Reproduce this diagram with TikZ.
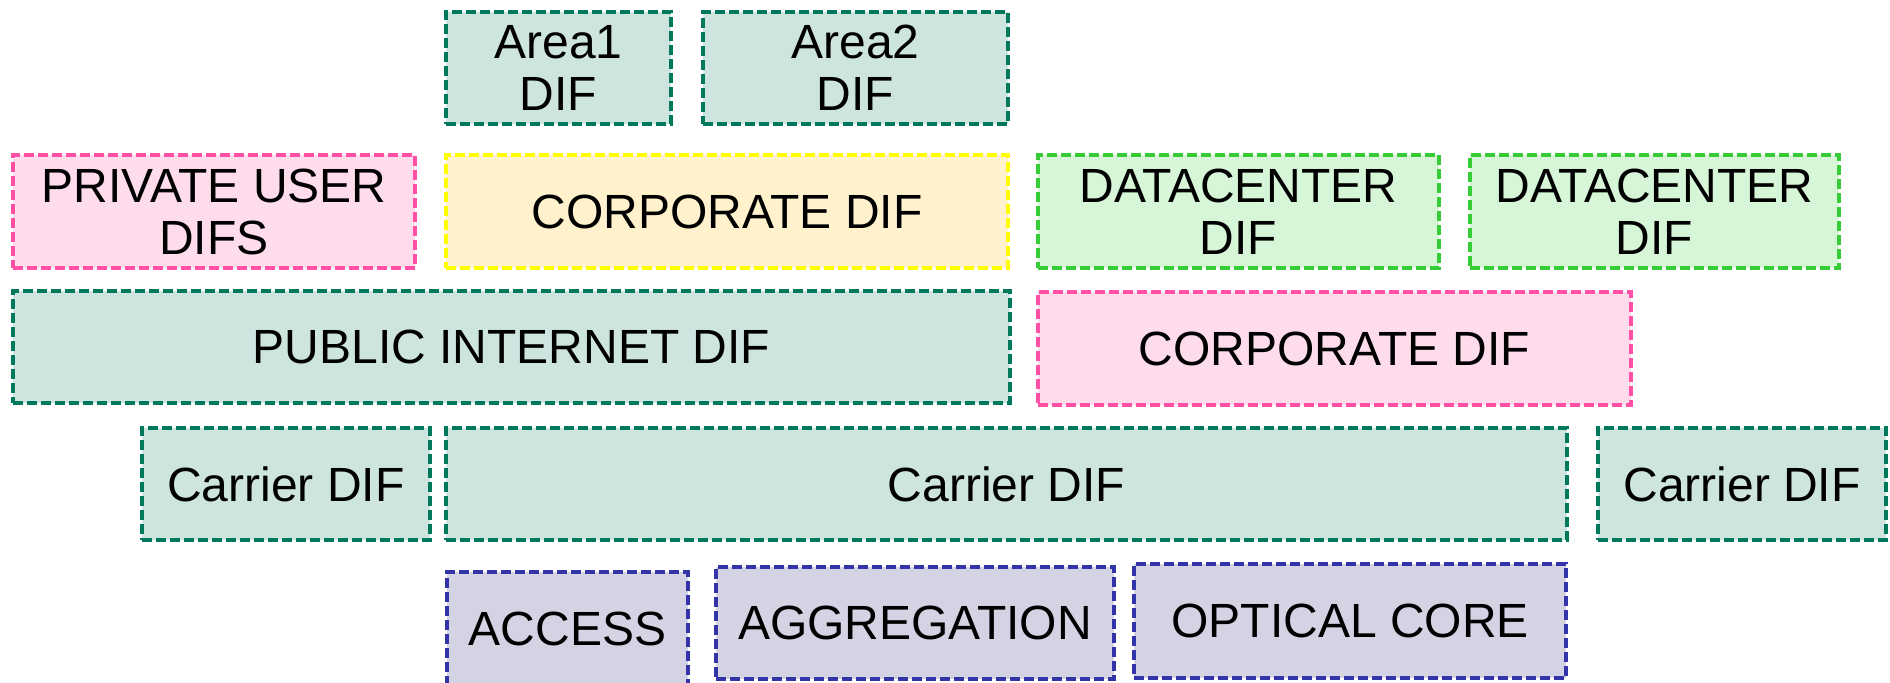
\documentclass[tikz,border=0pt]{standalone}
\usepackage{fontspec}
\setmainfont{Liberation Sans}
\usepackage{tikz}
\definecolor{tealline}{RGB}{0,120,92}
\definecolor{tealfill}{RGB}{205,228,223}
\definecolor{pinkline}{RGB}{255,80,166}
\definecolor{pinkfill}{RGB}{254,220,236}
\definecolor{yellowline}{RGB}{255,255,0}
\definecolor{yellowfill}{RGB}{255,242,204}
\definecolor{greenline}{RGB}{54,204,54}
\definecolor{greenfill}{RGB}{215,245,215}
\definecolor{blueline}{RGB}{51,51,170}
\definecolor{bluefill}{RGB}{211,211,227}
\tikzstyle{dif}=[rectangle,inner sep=0pt,line width=1.8pt,
dash pattern=on 5pt off 2pt,align=center,font=\fontsize{24}{26}\selectfont]
\tikzstyle{netdif}=[dif,draw=tealline,fill=tealfill]
\tikzstyle{privdif}=[dif,draw=pinkline,fill=pinkfill]
\tikzstyle{corpdif}=[dif,draw=yellowline,fill=yellowfill]
\tikzstyle{dcdif}=[dif,draw=greenline,fill=greenfill]
\tikzstyle{physnet}=[dif,draw=blueline,fill=bluefill]

\begin{document}
\begin{tikzpicture}[x=0.5pt,y=-0.5pt]
    \useasboundingbox (0,0) rectangle (1890,682);
    % first line: area DIFs
    \node (area1) [netdif,minimum width=112.5pt,minimum height=56pt] at (558.5,68) {Area1\\DIF};
    \node (area2) [netdif,minimum width=152.5pt,minimum height=56pt] at (855.5,68) {Area2\\DIF};
    % second line: private, corporate and datacenter DIFs
    \node (priv)  [privdif,minimum width=201pt,minimum height=56.5pt] at (214,211.5) {PRIVATE USER\\DIFS};
    \node (corp1) [corpdif,minimum width=281pt,minimum height=56.5pt] at (727,211.5) {CORPORATE DIF};
    \node (dc1)   [dcdif,minimum width=200.5pt,minimum height=56.5pt] at (1238.5,211.5) {DATACENTER\\DIF};
    \node (dc2)   [dcdif,minimum width=184.5pt,minimum height=56.5pt] at (1654.5,211.5) {DATACENTER\\DIF};
    % third line
    \node (inet)  [netdif,minimum width=498.5pt,minimum height=56pt] at (511.5,347) {PUBLIC INTERNET DIF};
    \node (corp2) [privdif,minimum width=296.5pt,minimum height=56.5pt] at (1334.5,348.5) {CORPORATE DIF};
    % fourth line: carriers
    \node (carl)  [netdif,minimum width=144pt,minimum height=56pt] at (286,484) {Carrier DIF};
    \node (carc)  [netdif,minimum width=560.5pt,minimum height=56pt] at (1006.5,484) {Carrier DIF};
    \node (carr)  [netdif,minimum width=144pt,minimum height=56pt] at (1742,484) {Carrier DIF};
    % last line: physical networks
    \node (access) [physnet,minimum width=120.5pt,minimum height=57pt] at (567.5,629) {ACCESS};
    \node (aggr)   [physnet,minimum width=199pt,minimum height=56pt] at (915,623) {AGGREGATION};
    \node (core)   [physnet,minimum width=216pt,minimum height=57pt] at (1350,621) {OPTICAL CORE};
  \end{tikzpicture}
\end{document}
